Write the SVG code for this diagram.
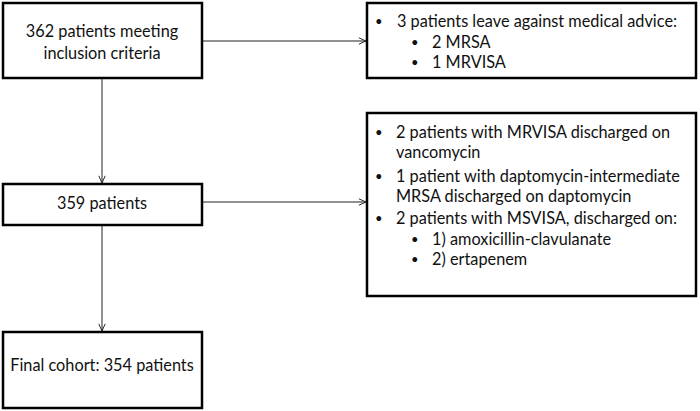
<svg xmlns="http://www.w3.org/2000/svg" width="700" height="411" viewBox="0 0 700 411">
<defs>
<style>
.box{fill:#fff;stroke:#000;stroke-width:2.5}
.t{font-family:Lato,"Open Sans",sans-serif;font-size:16.3px;fill:#111}
.b{font-family:Lato,"Open Sans",sans-serif;font-size:13px;fill:#111}
.c{text-anchor:middle}
.ln{stroke:#222;stroke-width:1;fill:none}
</style>
<marker id="ah" viewBox="0 0 10 10" refX="10" refY="5" markerWidth="8" markerHeight="8" markerUnits="userSpaceOnUse" orient="auto">
<path d="M1,1 L10,5 L1,9" fill="none" stroke="#222" stroke-width="1.2"/>
</marker>
</defs>
<rect width="700" height="411" fill="#fff"/>
<g id="connectors">
<line class="ln" x1="202" y1="41" x2="366" y2="41" marker-end="url(#ah)"/>
<line class="ln" x1="102" y1="78" x2="102" y2="183" marker-end="url(#ah)"/>
<line class="ln" x1="202" y1="202" x2="366" y2="202" marker-end="url(#ah)"/>
<line class="ln" x1="102" y1="225" x2="102" y2="331" marker-end="url(#ah)"/>
</g>
<g id="n1">
<rect class="box" x="3" y="3" width="199" height="75"/>
<text class="t c" x="102" y="37">362 patients meeting</text>
<text class="t c" x="102" y="59">inclusion criteria</text>
</g>
<g id="n2">
<rect class="box" x="367" y="3" width="329" height="75"/>
<text class="b" x="375" y="26">•</text><text class="t" x="397" y="27">3 patients leave against medical advice:</text>
<text class="b" x="411" y="47">•</text><text class="t" x="432" y="48">2 MRSA</text>
<text class="b" x="411" y="67">•</text><text class="t" x="432" y="68">1 MRVISA</text>
</g>
<g id="n3">
<rect class="box" x="3" y="184" width="199" height="41"/>
<text class="t c" x="102" y="209">359 patients</text>
</g>
<g id="n4">
<rect class="box" x="367" y="113" width="329" height="183"/>
<text class="b" x="375" y="137">•</text><text class="t" x="396" y="138">2 patients with MRVISA discharged on</text>
<text class="t" x="396" y="158">vancomycin</text>
<text class="b" x="375" y="181">•</text><text class="t" x="396" y="182">1 patient with daptomycin-intermediate</text>
<text class="t" x="396" y="202">MRSA discharged on daptomycin</text>
<text class="b" x="375" y="223">•</text><text class="t" x="396" y="224">2 patients with MSVISA, discharged on:</text>
<text class="b" x="411" y="244">•</text><text class="t" x="432" y="245">1) amoxicillin-clavulanate</text>
<text class="b" x="411" y="264">•</text><text class="t" x="432" y="265">2) ertapenem</text>
</g>
<g id="n5">
<rect class="box" x="3" y="332" width="199" height="76"/>
<text class="t c" x="102" y="371">Final cohort: 354 patients</text>
</g>
</svg>
